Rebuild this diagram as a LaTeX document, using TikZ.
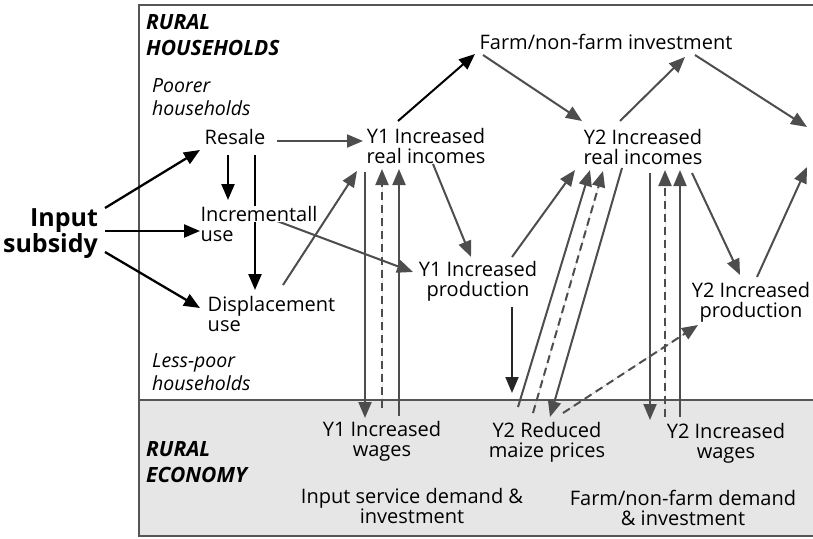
\documentclass[tikz,border=0pt]{standalone}
\usepackage{fontspec}
\setmainfont{Open Sans}
\usetikzlibrary{arrows.meta,calc}

\definecolor{linegray}{HTML}{4D4D4D}
\definecolor{shadegray}{HTML}{E6E6E7}
\definecolor{framegray}{HTML}{555555}

\pgfdeclarelayer{shade}
\pgfdeclarelayer{lines}
\pgfsetlayers{shade,lines,main}

\begin{document}
\begin{tikzpicture}[x=1pt,y=-1pt,
        txt/.style={font=\fontsize{20}{20}\selectfont,align=center,inner sep=0pt},
        ttl/.style={font=\fontsize{21}{26}\selectfont\bfseries\itshape,align=left,anchor=west,inner sep=0pt},
        grp/.style={font=\fontsize{19.5}{23}\selectfont\itshape,align=left,anchor=west,inner sep=0pt},
        arr/.style={-{Triangle[length=16pt,width=13pt]},line width=2pt,draw=linegray,fill=linegray},
        barr/.style={arr,draw=black,fill=black,line width=2.3pt},
        darr/.style={arr,dash pattern=on 8pt off 5pt}]

  \useasboundingbox (0,0) rectangle (813,538);

  \begin{pgfonlayer}{shade}
    \fill[shadegray] (139,400) rectangle (813,536);
    \draw[framegray,line width=1.3pt] (813,5) -- (139,5) -- (139,536) -- (813,536);
    \draw[framegray,line width=1.3pt] (139,400) -- (813,400);
  \end{pgfonlayer}

  \node[ttl] (hhttl) at (146,35) {RURAL\\HOUSEHOLDS};
  \node[grp] (poor) at (152,97) {Poorer\\households};
  \node[grp] (lesspoor) at (152,372) {Less-poor\\households};
  \node[ttl] (ecottl) at (146,462) {RURAL\\ECONOMY};

  \node[txt,font=\fontsize{25}{22}\selectfont\bfseries,align=right] (input) at (50.5,234) {Input\\subsidy};
  \node[txt] (resale) at (235,137) {Resale};
  \node[txt,align=left,execute at begin node=\setlength\fboxsep{0pt}] (incr) at (259,224) {\colorbox{white}{Incrementall}\\use};
  \node[txt,align=left] (displ) at (271.5,314) {Displacement\\use};
  \node[txt] (y1inc) at (426,146) {Y1 Increased\\real incomes};
  \node[txt] (farm) at (606,42) {Farm/non-farm investment};
  \node[txt] (y2inc) at (643,147) {Y2 Increased\\real incomes};
  \node[txt] (y1prod) at (478,281) {Y1 Increased\\production};
  \node[txt] (y2prod) at (751,302) {Y2 Increased\\production};
  \node[txt] (y1wage) at (382,441) {Y1 Increased\\wages};
  \node[txt] (y2price) at (547,442) {Y2 Reduced\\maize prices};
  \node[txt] (y2wage) at (726,443) {Y2 Increased\\wages};
  \node[txt] (inputdem) at (412,506) {Input service demand \&\\investment};
  \node[txt] (farmdem) at (683,508) {Farm/non-farm demand\\\& investment};
  \coordinate (outa) at (807,127);
  \coordinate (outb) at (807,167);

  \begin{pgfonlayer}{lines}
  \draw[barr] ($(input)+(54.5,-26)$) -- ($(resale)+(-35,13)$);
  \draw[barr] ($(input)+(54.5,-3)$) -- ($(incr)+(-59,7)$);
  \draw[barr] ($(input)+(54.5,18)$) -- ($(displ)+(-71.5,-6)$);
  \draw[barr] ($(resale)+(-7,18)$) -- ($(incr)+(-31,-24)$);
  \draw[barr] ($(resale)+(20,18)$) -- ($(displ)+(-16.5,-24)$);
  \draw[arr] ($(resale)+(42,4)$) -- ($(y1inc)+(-63,-5)$);
  \draw[arr] ($(displ)+(11.5,-29)$) -- ($(y1inc)+(-69,25)$);
  \draw[arr] ($(incr)+(18,-3)$) -- ($(y1prod)+(-65,-9)$);
  \draw[barr,line width=2pt] ($(y1inc)+(-28,-25)$) -- ($(farm)+(-131,12)$);
  \draw[arr] ($(farm)+(-123,13)$) -- ($(y2inc)+(-61,-26)$);
  \draw[arr] ($(y1inc)+(7,18)$) -- ($(y1prod)+(-7,-24)$);
  \draw[arr] ($(y1prod)+(34,-24)$) -- ($(y2inc)+(-68,23)$);
  \draw[arr,draw=black!85,fill=black!85] ($(y1prod)+(34,26)$) -- ($(y2price)+(-35,-49)$);
  \draw[arr] ($(y2price)+(-29,-35)$) -- ($(y2inc)+(-53,23)$);
  \draw[darr] ($(y2price)+(-14,-29)$) -- ($(y2inc)+(-40,24)$);
  \draw[arr] ($(y2inc)+(-21,21)$) -- ($(y2price)+(3,-25)$);
  \draw[darr] ($(y2price)+(16,-29)$) -- ($(y2prod)+(-53,23)$);
  \draw[arr] ($(y1inc)+(-61,26)$) -- ($(y1wage)+(-17,-23)$);
  \draw[darr] ($(y1wage)+(0,-33)$) -- ($(y1inc)+(-44,23)$);
  \draw[arr] ($(y1wage)+(17,-25)$) -- ($(y1inc)+(-27,23)$);
  \draw[arr] ($(y2inc)+(7,26)$) -- ($(y2wage)+(-76,-23)$);
  \draw[darr] ($(y2wage)+(-61,-26)$) -- ($(y2inc)+(22,23)$);
  \draw[arr] ($(y2wage)+(-46,-26)$) -- ($(y2inc)+(37,23)$);
  \draw[arr] ($(y2inc)+(49,26)$) -- ($(y2prod)+(-11,-27)$);
  \draw[arr] ($(y2prod)+(6,-25)$) -- (outb);
  \draw[arr] ($(farm)+(89,13)$) -- (outa);
  \draw[arr] ($(y2inc)+(-23,-26)$) -- ($(farm)+(79,15)$);
  \end{pgfonlayer}

\end{tikzpicture}
\end{document}
